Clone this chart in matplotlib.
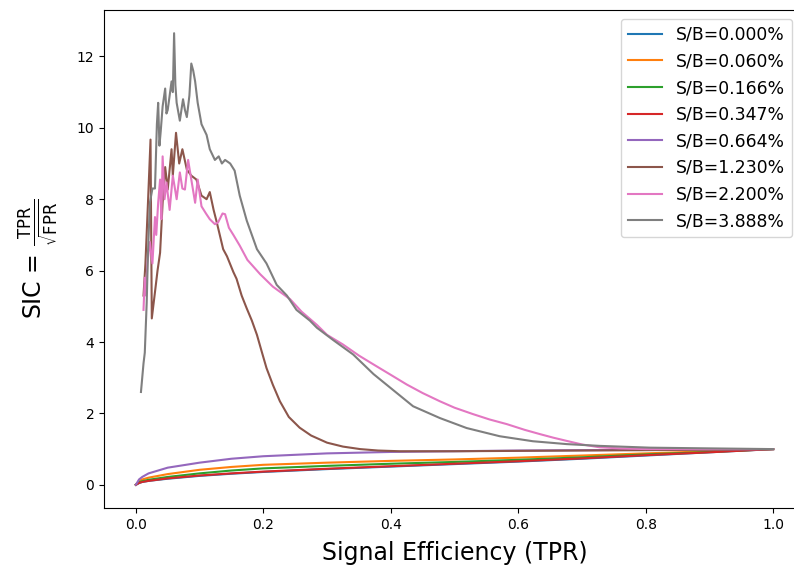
import matplotlib
matplotlib.use("Agg")
import matplotlib.pyplot as plt

# S/B labels, in the order the curves are drawn
labels = ["S/B=0.000%", "S/B=0.060%", "S/B=0.166%", "S/B=0.347%",
          "S/B=0.664%", "S/B=1.230%", "S/B=2.200%", "S/B=3.888%"]

# low S/B curves share one TPR grid
tpr_low = [0.0, 0.005, 0.01, 0.02, 0.05, 0.1, 0.15, 0.2, 0.3, 0.4,
           0.5, 0.6, 0.7, 0.8, 0.9, 1.0]
sic_000 = [0.0, 0.05, 0.08, 0.11, 0.17, 0.25, 0.31, 0.36, 0.44, 0.51,
           0.58, 0.65, 0.73, 0.82, 0.91, 1.0]
sic_060 = [0.0, 0.10, 0.15, 0.20, 0.30, 0.42, 0.50, 0.56, 0.62, 0.67,
           0.71, 0.76, 0.82, 0.88, 0.94, 1.0]
sic_166 = [0.0, 0.07, 0.10, 0.14, 0.22, 0.32, 0.40, 0.46, 0.53, 0.59,
           0.64, 0.70, 0.77, 0.85, 0.92, 1.0]
sic_347 = [0.0, 0.05, 0.08, 0.11, 0.18, 0.26, 0.32, 0.37, 0.45, 0.52,
           0.59, 0.66, 0.74, 0.83, 0.91, 1.0]
sic_664 = [0.0, 0.15, 0.22, 0.32, 0.48, 0.62, 0.73, 0.80, 0.88, 0.92,
           0.94, 0.96, 0.97, 0.98, 0.99, 1.0]

# high S/B curves: (TPR, SIC) pairs
curve_1230 = [
    (0.012, 5.3), (0.015, 6.2), (0.019, 7.9), (0.023, 9.67), (0.025, 4.66),
    (0.03, 5.4), (0.034, 6.0), (0.038, 6.5), (0.042, 7.9), (0.046, 8.9),
    (0.05, 8.27), (0.056, 9.4), (0.058, 8.66), (0.063, 9.86), (0.068, 9.0),
    (0.073, 9.4), (0.08, 8.83), (0.087, 8.66), (0.095, 8.55), (0.103, 8.1),
    (0.111, 8.0), (0.116, 8.2), (0.122, 7.7), (0.127, 7.35), (0.137, 6.6),
    (0.143, 6.4), (0.153, 5.96), (0.158, 5.77), (0.166, 5.3), (0.174, 4.94),
    (0.182, 4.6), (0.19, 4.2), (0.198, 3.7), (0.205, 3.27), (0.215, 2.8),
    (0.226, 2.34), (0.24, 1.9), (0.257, 1.6), (0.275, 1.38), (0.3, 1.18),
    (0.325, 1.07), (0.352, 1.0), (0.38, 0.96), (0.414, 0.94), (0.5, 0.94),
    (0.6, 0.95), (0.7, 0.96), (0.8, 0.97), (0.9, 0.985), (1.0, 1.0),
]
curve_2200 = [
    (0.012, 4.9), (0.014, 5.8), (0.016, 5.3), (0.018, 6.2), (0.022, 6.8),
    (0.026, 6.2), (0.03, 7.5), (0.032, 7.0), (0.035, 7.9), (0.038, 8.55),
    (0.04, 7.44), (0.042, 9.2), (0.045, 8.0), (0.048, 8.47), (0.053, 7.7),
    (0.058, 8.66), (0.064, 8.0), (0.069, 8.75), (0.073, 8.3), (0.077, 8.27),
    (0.082, 9.1), (0.087, 8.55), (0.093, 7.9), (0.097, 8.55), (0.103, 7.8),
    (0.11, 7.6), (0.116, 7.44), (0.124, 7.3), (0.129, 7.35), (0.136, 7.6),
    (0.14, 7.58), (0.146, 7.2), (0.153, 7.0), (0.163, 6.7), (0.175, 6.3),
    (0.195, 5.9), (0.215, 5.55), (0.242, 5.2), (0.26, 4.85), (0.284, 4.48),
    (0.3, 4.2), (0.325, 3.93), (0.35, 3.62), (0.373, 3.37), (0.4, 3.08),
    (0.425, 2.81), (0.45, 2.57), (0.477, 2.34), (0.5, 2.16), (0.529, 1.98),
    (0.555, 1.83), (0.582, 1.7), (0.61, 1.54), (0.634, 1.42), (0.655, 1.32),
    (0.676, 1.23), (0.7, 1.13), (0.728, 1.05), (0.76, 1.02), (0.8, 1.0),
    (0.9, 1.0), (1.0, 1.0),
]
curve_3888 = [
    (0.008, 2.6), (0.012, 3.4), (0.014, 3.7), (0.017, 5.1), (0.019, 6.5),
    (0.022, 7.9), (0.026, 8.3), (0.03, 8.3), (0.033, 10.1), (0.035, 10.7),
    (0.037, 9.5), (0.039, 9.9), (0.042, 10.6), (0.046, 11.1), (0.048, 10.4),
    (0.05, 10.5), (0.053, 10.9), (0.056, 11.3), (0.058, 11.0), (0.06, 12.65),
    (0.062, 11.2), (0.064, 10.7), (0.069, 10.2), (0.074, 10.8), (0.077, 10.5),
    (0.08, 10.3), (0.084, 10.9), (0.087, 11.8), (0.09, 11.6), (0.093, 11.3),
    (0.097, 10.7), (0.103, 10.1), (0.111, 9.8), (0.116, 9.4), (0.124, 9.1),
    (0.13, 9.2), (0.135, 9.0), (0.14, 9.1), (0.148, 9.0), (0.155, 8.8),
    (0.163, 8.1), (0.174, 7.4), (0.19, 6.6), (0.205, 6.2), (0.221, 5.6),
    (0.237, 5.3), (0.252, 4.9), (0.273, 4.6), (0.284, 4.4), (0.31, 4.05),
    (0.341, 3.65), (0.373, 3.1), (0.404, 2.65), (0.435, 2.2), (0.477, 1.87),
    (0.519, 1.59), (0.571, 1.36), (0.623, 1.22), (0.676, 1.14), (0.728, 1.09),
    (0.807, 1.04), (0.9, 1.02), (1.0, 1.0),
]


def main():
    fig = plt.figure(figsize=(7.94, 5.68), dpi=100)
    # axes runs a bit past the right edge of the canvas, like the reference
    ax = fig.add_axes([104 / 794, 60 / 568, 701 / 794, 498 / 568])

    for sic, lab in zip([sic_000, sic_060, sic_166, sic_347, sic_664], labels[:5]):
        ax.plot(tpr_low, sic, label=lab)

    for curve, lab in zip([curve_1230, curve_2200, curve_3888], labels[5:]):
        x, y = zip(*curve)
        ax.plot(x, y, label=lab)

    ax.set_xlim(-0.05, 1.05)
    ax.set_ylim(-0.65, 13.3)
    ax.set_xlabel("Signal Efficiency (TPR)", fontsize=17, labelpad=7)
    ax.set_ylabel(r"SIC = $\frac{\mathrm{TPR}}{\sqrt{\mathrm{FPR}}}$",
                  fontsize=17, labelpad=12)

    # legend box sits inside the visible canvas
    ax.legend(loc="upper right", fontsize=12.4,
              bbox_to_anchor=(792 / 794, 1 - 19 / 568),
              bbox_transform=fig.transFigure, borderaxespad=0)

    fig.savefig("out.png", dpi=100)
    plt.close(fig)


if __name__ == "__main__":
    main()
